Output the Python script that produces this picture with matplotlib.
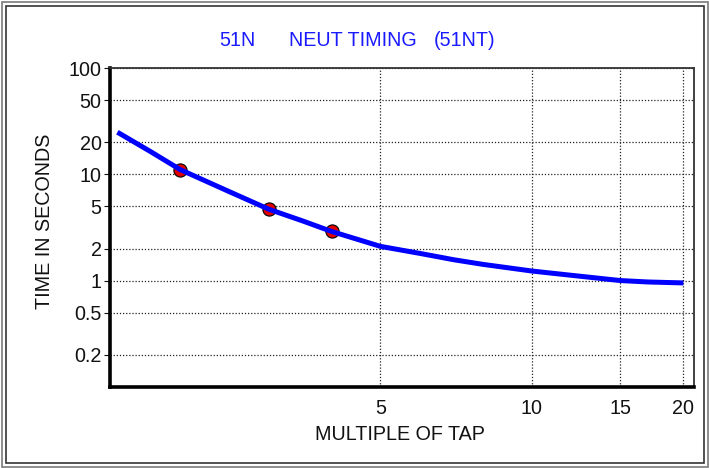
import matplotlib
matplotlib.use("Agg")
import matplotlib.pyplot as plt
from matplotlib.patches import Rectangle
from matplotlib.ticker import FixedLocator, FixedFormatter, NullLocator

# Relay timing curve (multiple of tap vs. operate time)
curve_multiple = [1.5, 1.75, 2, 2.5, 3, 3.5, 4, 5, 6, 7, 8, 10, 12, 15, 17, 20]
curve_seconds = [25.0, 16.3, 11.1, 6.9, 4.7, 3.65, 2.9, 2.1, 1.8, 1.57, 1.42,
                 1.23, 1.12, 1.0, 0.97, 0.95]

# Test points
test_multiple = [2, 3, 4]
test_seconds = [11.1, 4.7, 2.9]

y_ticks = [0.2, 0.5, 1, 2, 5, 10, 20, 50, 100]
y_tick_labels = ["0.2", "0.5", "1", "2", "5", "10", "20", "50", "100"]
x_ticks = [5, 10, 15, 20]
x_tick_labels = ["5", "10", "15", "20"]

title_parts = ["51N", "NEUT TIMING", "(51NT)"]
x_label = "MULTIPLE OF TAP"
y_label = "TIME IN SECONDS"

plt.rcParams["font.family"] = ["Liberation Sans", "DejaVu Sans"]
FS = 14.2

W, H = 709, 468
fig = plt.figure(figsize=(W / 100, H / 100), dpi=100)
fig.patch.set_facecolor("white")

# double frame around the whole panel
for inset, col in ((1.5, "#7a7a7a"), (5.5, "#333333")):
    fig.add_artist(Rectangle((inset / W, inset / H), 1 - 2 * inset / W, 1 - 2 * inset / H,
                             transform=fig.transFigure, fill=False,
                             edgecolor=col, linewidth=1.2))

left, right, top, bottom = 110, 694, 68.3, 386.7
ax = fig.add_axes([left / W, 1 - bottom / H, (right - left) / W, (bottom - top) / H])
ax.set_xscale("log")
ax.set_yscale("log")
ax.set_xlim(1.45, 21)
ax.set_ylim(0.1, 100)

ax.yaxis.set_major_locator(FixedLocator(y_ticks))
ax.yaxis.set_major_formatter(FixedFormatter(y_tick_labels))
ax.yaxis.set_minor_locator(NullLocator())
ax.xaxis.set_major_locator(FixedLocator(x_ticks))
ax.xaxis.set_major_formatter(FixedFormatter(x_tick_labels))
ax.xaxis.set_minor_locator(NullLocator())

ax.grid(True, which="major", color="#222222", linestyle=(0, (1, 1.5)), linewidth=0.9)
ax.tick_params(axis="both", labelsize=FS, colors="#111111", length=4, width=0.8,
               direction="out", pad=2)
ax.tick_params(axis="x", length=0, pad=9)

for side in ("top", "right"):
    ax.spines[side].set_linewidth(1.3)
    ax.spines[side].set_color("#333333")
for side in ("left", "bottom"):
    ax.spines[side].set_linewidth(2.6)
    ax.spines[side].set_color("black")

ax.plot(curve_multiple, curve_seconds, color="#0000ff", linewidth=3.6,
        solid_capstyle="butt", solid_joinstyle="round", zorder=3)
ax.plot(test_multiple, test_seconds, linestyle="none", marker="o", markersize=9.5,
        markerfacecolor="#e00000", markeredgecolor="black", markeredgewidth=0.8, zorder=2.5)

for part, x0 in zip(title_parts, (219, 289, 434)):
    fig.text(x0 / W, 1 - 40 / H, part, color="#1a1aff", fontsize=FS,
             ha="left", va="center")
fig.text(400 / W, 1 - 435 / H, x_label, color="#111111", fontsize=FS,
         ha="center", va="center")
fig.text(45 / W, 1 - 221 / H, y_label, color="#111111", fontsize=FS,
         ha="center", va="center", rotation=90)

fig.savefig("out.png", dpi=100)
